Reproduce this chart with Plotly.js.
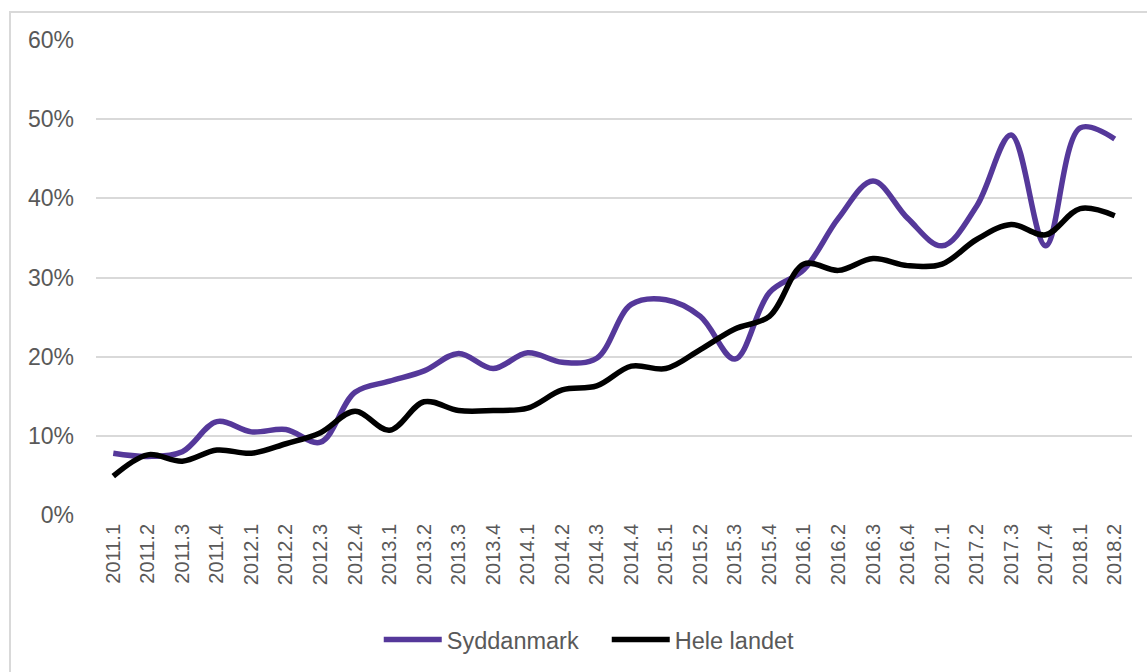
<!DOCTYPE html>
<html>
<head>
<meta charset="utf-8">
<script src="https://cdn.plot.ly/plotly-3.0.1.min.js"></script>
<style>
html,body{margin:0;padding:0;background:#fff;}
#frame{position:absolute;left:9px;top:11px;width:1140px;height:670px;border-top:2px solid #d9d9d9;border-left:2px solid #d9d9d9;pointer-events:none;}
#chart{position:absolute;left:0;top:0;width:1147px;height:672px;}
</style>
</head>
<body>
<div id="chart"></div>
<div id="frame"></div>
<script>
const categories = ["2011.1","2011.2","2011.3","2011.4","2012.1","2012.2","2012.3","2012.4",
  "2013.1","2013.2","2013.3","2013.4","2014.1","2014.2","2014.3","2014.4",
  "2015.1","2015.2","2015.3","2015.4","2016.1","2016.2","2016.3","2016.4",
  "2017.1","2017.2","2017.3","2017.4","2018.1","2018.2"];
const syddanmark = [0.078,0.074,0.080,0.118,0.105,0.108,0.092,0.155,
  0.169,0.182,0.204,0.185,0.205,0.193,0.198,0.266,
  0.272,0.251,0.197,0.281,0.310,0.375,0.422,0.375,
  0.340,0.390,0.480,0.340,0.489,0.475];
const heleLandet = [0.049,0.076,0.068,0.082,0.078,0.090,0.104,0.131,
  0.107,0.143,0.132,0.132,0.135,0.158,0.163,0.188,
  0.185,0.209,0.235,0.251,0.317,0.309,0.324,0.315,
  0.317,0.348,0.367,0.354,0.387,0.378];
const seriesNames = ["Syddanmark","Hele landet"];
const yTickVals = [0,0.1,0.2,0.3,0.4,0.5,0.6];

const font = "Liberation Sans, Arial, sans-serif";
const traces = [
  {x: categories, y: syddanmark, name: seriesNames[0], type: "scatter", mode: "lines",
   line: {color: "#55389A", width: 5.5, shape: "spline", smoothing: 1}},
  {x: categories, y: heleLandet, name: seriesNames[1], type: "scatter", mode: "lines",
   line: {color: "#000000", width: 5.5, shape: "spline", smoothing: 1}}
];
const layout = {
  width: 1147, height: 672,
  margin: {l: 96, r: 15, t: 40, b: 156},
  paper_bgcolor: "rgba(0,0,0,0)", plot_bgcolor: "rgba(0,0,0,0)",
  font: {family: font, color: "#595959"},
  showlegend: true,
  legend: {orientation: "h", x: 0.493, xanchor: "center", y: -0.26, yanchor: "middle",
    font: {size: 23.5, color: "#595959", family: font}, traceorder: "normal", itemwidth: 58,
    entrywidth: 155, entrywidthmode: "pixels"},
  xaxis: {type: "category", range: [-0.5, 29.5], tickangle: -90, showgrid: false,
    zeroline: false, showline: false, ticks: "", tickfont: {size: 20, color: "#595959", family: font},
    ticklabelstandoff: 4, fixedrange: true},
  yaxis: {range: [0, 0.6], tickvals: yTickVals, tickformat: ".0%", showgrid: true,
    gridcolor: "#d9d9d9", gridwidth: 2, zeroline: false, showline: false, ticks: "",
    tickfont: {size: 23, color: "#595959", family: font}, ticklabelstandoff: 21, fixedrange: true}
};
Plotly.newPlot("chart", traces, layout, {displayModeBar: false, staticPlot: true});
</script>
</body>
</html>
